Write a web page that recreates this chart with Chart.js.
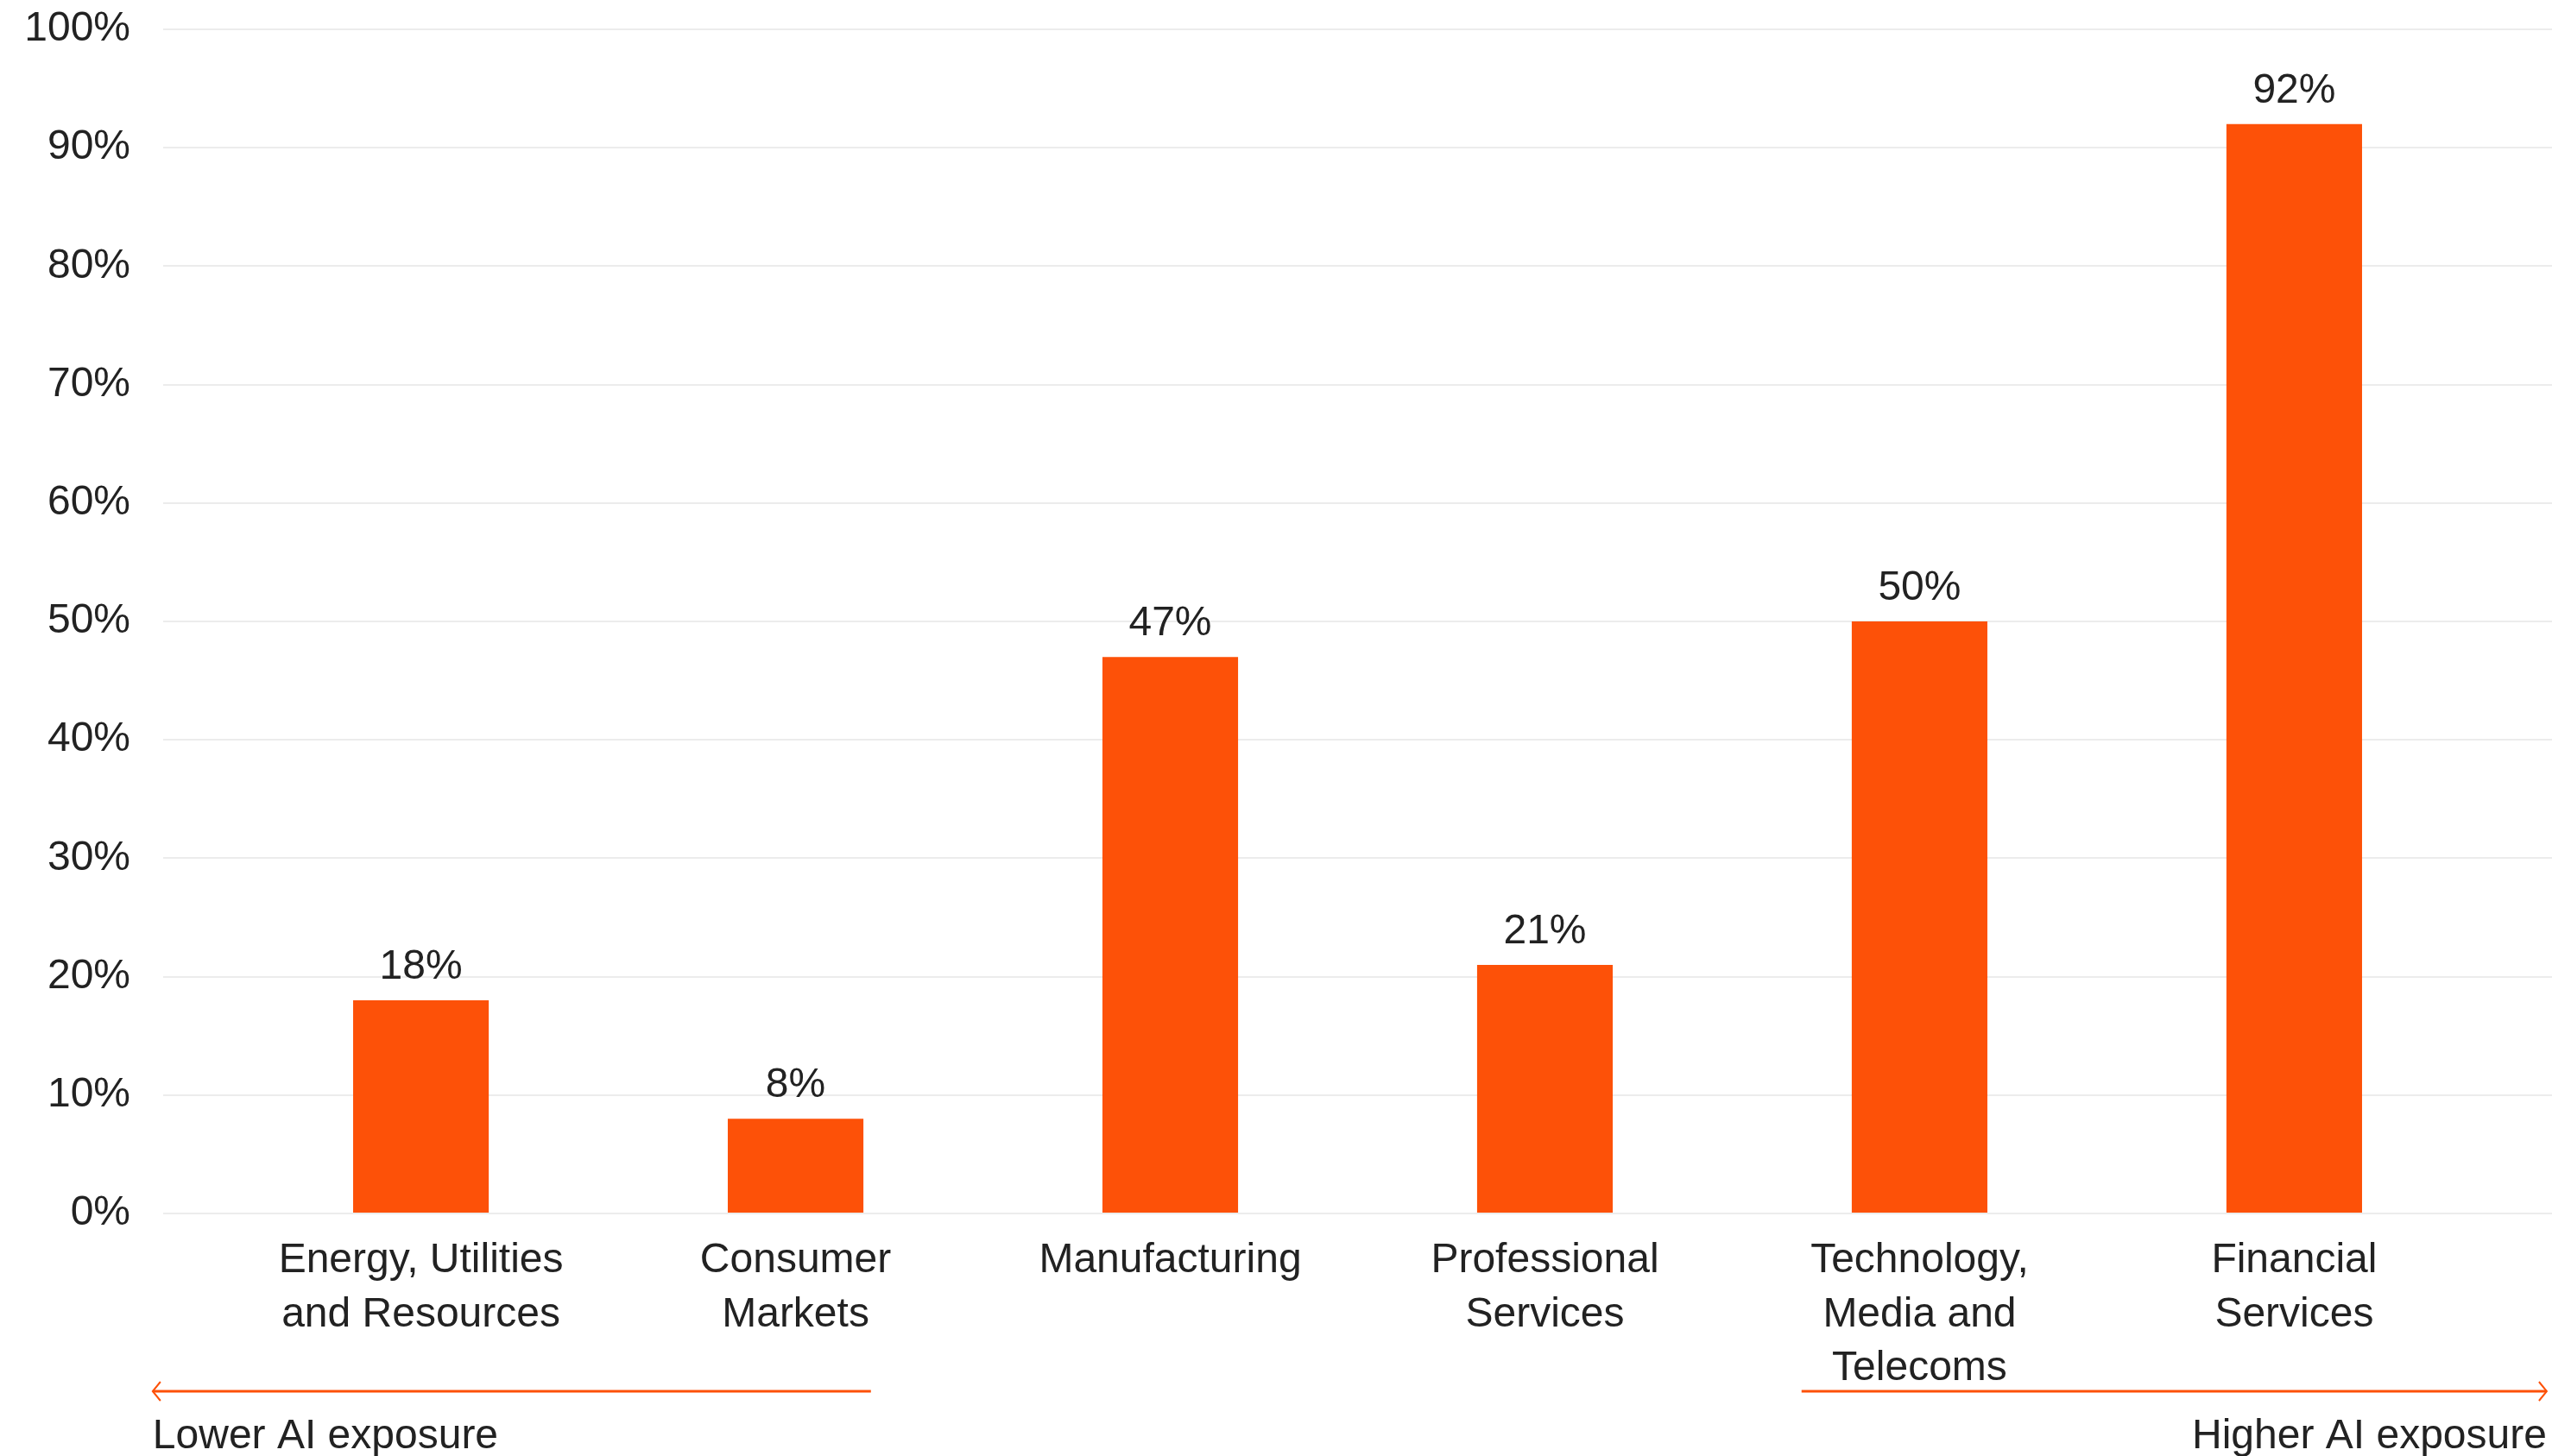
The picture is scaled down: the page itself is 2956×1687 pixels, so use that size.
<!DOCTYPE html>
<html>
<head>
<meta charset="utf-8">
<script src="https://cdn.jsdelivr.net/npm/chart.js@4.4.1/dist/chart.umd.min.js"></script>
<style>
  html, body { margin: 0; padding: 0; background: #fff; }
  #wrap { width: 2956px; height: 1687px; }
</style>
</head>
<body>
<div id="wrap"><canvas id="chart" width="2956" height="1687"></canvas></div>
<script>
// ---------------- DATA ----------------

const sectors = [
  ['Energy, Utilities', 'and Resources'],
  ['Consumer', 'Markets'],
  ['Manufacturing'],
  ['Professional', 'Services'],
  ['Technology,', 'Media and', 'Telecoms'],
  ['Financial', 'Services']
];
const exposureShare = [18, 8, 47, 21, 50, 92];
const yTicks = [0, 10, 20, 30, 40, 50, 60, 70, 80, 90, 100];
const lowLabel = 'Lower AI exposure';
const highLabel = 'Higher AI exposure';

const ORANGE = '#FD5108';
const INK = '#222222';
const FONT = "'Liberation Sans', Arial, Helvetica, sans-serif";

// -------- PLUGINS --------

// percentage above each bar
const valueLabels = {
  id: 'valueLabels',
  afterDatasetsDraw(chart) {
    const ctx = chart.ctx;
    const meta = chart.getDatasetMeta(0);
    ctx.save();
    ctx.font = `48px ${FONT}`;
    ctx.fillStyle = INK;
    ctx.textAlign = 'center';
    ctx.textBaseline = 'alphabetic';
    meta.data.forEach((bar, i) => {
      ctx.fillText(exposureShare[i] + '%', bar.x, bar.y - 25);
    });
    ctx.restore();
  }
};

// the lower / higher exposure arrows under the axis
const exposureArrows = {
  id: 'exposureArrows',
  afterDraw(chart) {
    const ctx = chart.ctx;
    const x = chart.scales.x;
    const base = chart.chartArea.bottom;
    const arrowY = base + 206;
    const textY = base + 272;

    const lx0 = x.getPixelForValue(-0.716), lx1 = x.getPixelForValue(1.201);
    const rx0 = x.getPixelForValue(3.685), rx1 = x.getPixelForValue(5.674);

    ctx.save();
    ctx.strokeStyle = ORANGE;
    ctx.lineCap = 'butt';

    ctx.lineWidth = 3;
    ctx.beginPath();
    ctx.moveTo(lx0, arrowY); ctx.lineTo(lx1, arrowY);
    ctx.moveTo(rx0, arrowY); ctx.lineTo(rx1, arrowY);
    ctx.stroke();

    ctx.lineWidth = 2;
    ctx.beginPath();
    ctx.moveTo(lx0 + 9, arrowY - 11); ctx.lineTo(lx0, arrowY); ctx.lineTo(lx0 + 9, arrowY + 11);
    ctx.moveTo(rx1 - 9, arrowY - 11); ctx.lineTo(rx1, arrowY); ctx.lineTo(rx1 - 9, arrowY + 11);
    ctx.stroke();

    ctx.font = `48px ${FONT}`;
    ctx.fillStyle = INK;
    ctx.textBaseline = 'alphabetic';
    ctx.textAlign = 'left';
    ctx.fillText(lowLabel, lx0, textY);
    ctx.textAlign = 'right';
    ctx.fillText(highLabel, rx1, textY);
    ctx.restore();
  }
};

// -------- CHART --------

new Chart(document.getElementById('chart'), {
  type: 'bar',
  data: {
    datasets: [{
      data: exposureShare.map((v, i) => ({ x: i, y: v })),
      backgroundColor: ORANGE,
      borderWidth: 0,
      categoryPercentage: 1,
      barPercentage: 0.362
    }]
  },
  options: {
    responsive: false,
    animation: false,
    devicePixelRatio: 1,
    layout: { padding: { top: 34, right: 0, bottom: 0, left: 0 } },
    plugins: {
      legend: { display: false },
      tooltip: { enabled: false }
    },
    scales: {
      x: {
        type: 'linear',
        offset: false,
        min: -0.688,
        max: 5.688,
        grid: { display: false, offset: false },
        border: { display: false },
        afterBuildTicks: scale => { scale.ticks = sectors.map((_, i) => ({ value: i })); },
        afterFit: scale => { scale.height = 281; },
        ticks: {
          autoSkip: false,
          maxRotation: 0,
          padding: 16,
          color: INK,
          font: { family: FONT, size: 48, lineHeight: 1.3 },
          callback: v => sectors[v]
        }
      },
      y: {
        min: 0,
        max: 100,
        grid: { color: '#ececec', lineWidth: 2, drawTicks: false },
        border: { display: false },
        afterBuildTicks: scale => { scale.ticks = yTicks.map(v => ({ value: v })); },
        afterFit: scale => {
          scale.width = 189;
          scale.paddingTop = 0;
          scale.paddingBottom = 0;
        },
        ticks: {
          padding: 38,
          color: INK,
          font: { family: FONT, size: 48 },
          callback: v => v + '%'
        }
      }
    }
  },
  plugins: [valueLabels, exposureArrows]
});
</script>
</body>
</html>
